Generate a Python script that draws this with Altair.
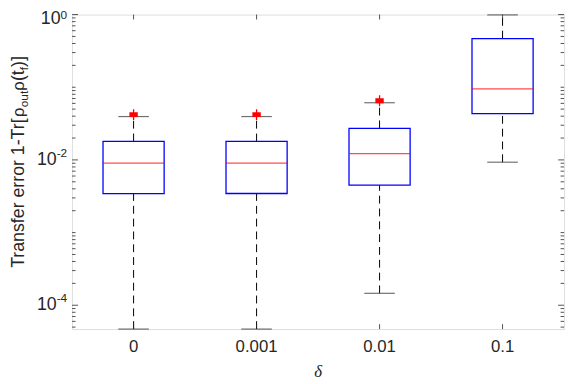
import altair as alt
import pandas as pd

# ---- data ----
cats = ["0", "0.001", "0.01", "0.1"]
q1 = [0.00343, 0.00345, 0.00450, 0.0434]
med = [0.00902, 0.00902, 0.01222, 0.0948]
q3 = [0.01794, 0.01794, 0.0272, 0.467]
wlo = [4.7e-5, 4.7e-5, 1.46e-4, 0.0093]
whi = [0.0395, 0.0395, 0.0612, 0.99]
out_cat = ["0", "0.001", "0.01"]
out_val = [0.042, 0.042, 0.0652]
ytick_vals = [1e-4, 1e-2, 1.0]
ytick_exp = ["-4", "-2", "0"]

W, H = 499, 319
FONT = "Liberation Sans"
TXT = "#262626"
FS = 17

box = pd.DataFrame({"cat": cats, "q1": q1, "med": med, "q3": q3, "lo": wlo, "hi": whi})
outl = pd.DataFrame({"cat": out_cat, "v": out_val})

yscale = alt.Scale(type="log", domain=[4.7e-5, 1.0], nice=False)
xscale = alt.Scale(domain=cats, paddingInner=0, paddingOuter=0)
X = alt.X("cat:N", scale=xscale, sort=cats, title=None,
          axis=alt.Axis(labelAngle=0, labelFont=FONT, labelFontSize=FS, labelColor=TXT,
                        ticks=False, domain=False, grid=False, labelPadding=10))

base = alt.Chart(box)
dash = [8, 5]
w_up = base.mark_rule(color="black", strokeWidth=1, strokeDash=dash).encode(
    x=X, y=alt.Y("q3:Q", scale=yscale, axis=None), y2="hi:Q")
w_dn = base.mark_rule(color="black", strokeWidth=1, strokeDash=dash).encode(
    x=X, y=alt.Y("lo:Q", scale=yscale, axis=None), y2="q1:Q")
cap_hi = base.mark_tick(color="#333333", size=31, thickness=1.2).encode(
    x=X, y=alt.Y("hi:Q", scale=yscale, axis=None))
cap_lo = base.mark_tick(color="#333333", size=31, thickness=1.2).encode(
    x=X, y=alt.Y("lo:Q", scale=yscale, axis=None))
boxes = base.mark_bar(size=62, fill="white", stroke="#0000ff", strokeWidth=1.3).encode(
    x=X, y=alt.Y("q1:Q", scale=yscale, axis=None), y2="q3:Q")
meds = base.mark_tick(color="#ff0000", size=62, thickness=1.2).encode(
    x=X, y=alt.Y("med:Q", scale=yscale, axis=None))
plus_shape = "M-0.85,-0.5H0.85V0.5H-0.85Z M-0.13,-1.1H0.13V1.1H-0.13Z"
outs = alt.Chart(outl).mark_point(shape=plus_shape, filled=True, color="#ff0000",
                                  size=100, opacity=1).encode(
    x=X, y=alt.Y("v:Q", scale=yscale, axis=None))

# y ticks (inward, both sides)
minor = []
for e in range(-5, 0):
    for k in range(1, 10):
        v = k * 10 ** e
        if 4.7e-5 <= v <= 1.0 and not any(abs(v - t) / t < 1e-9 for t in ytick_vals):
            minor.append(v)
mdf = pd.DataFrame({"v": minor})
Mdf = pd.DataFrame({"v": ytick_vals})
tick_layers = []
for df, L in [(mdf, 3.5), (Mdf, 6)]:
    tick_layers.append(alt.Chart(df).mark_rule(color=TXT, strokeWidth=0.8).encode(
        y=alt.Y("v:Q", scale=yscale, axis=None), x=alt.value(0), x2=alt.value(L)))
    tick_layers.append(alt.Chart(df).mark_rule(color=TXT, strokeWidth=0.8).encode(
        y=alt.Y("v:Q", scale=yscale, axis=None), x=alt.value(W), x2=alt.value(W - L)))
cdf = pd.DataFrame({"cat": cats})
tick_layers.append(alt.Chart(cdf).mark_rule(color=TXT, strokeWidth=0.8).encode(
    x=X, y=alt.value(H), y2=alt.value(H - 5)))
tick_layers.append(alt.Chart(cdf).mark_rule(color=TXT, strokeWidth=0.8).encode(
    x=X, y=alt.value(0), y2=alt.value(5)))

# y tick labels 10^e
AW = {"0": .556, "1": .556, "2": .556, "4": .556, "-": .333}
lab_layers = []
LS, ES = 18, 12
for v, ex in zip(ytick_vals, ytick_exp):
    ew = sum(AW[c] for c in ex) * ES
    R = -5
    top = (v == 1.0)
    d = pd.DataFrame({"v": [v]})
    lab_layers.append(alt.Chart(d).mark_text(text="10", font=FONT, fontSize=LS, color=TXT,
                                             align="right", baseline="middle",
                                             dy=5 if top else 0).encode(
        y=alt.Y("v:Q", scale=yscale, axis=None), x=alt.value(R - ew)))
    lab_layers.append(alt.Chart(d).mark_text(text=ex, font=FONT, fontSize=ES, color=TXT,
                                             align="left", baseline="middle",
                                             dy=0.5 if top else -7).encode(
        y=alt.Y("v:Q", scale=yscale, axis=None), x=alt.value(R - ew)))

# y title with subscripts
CW = {"T": .611, "r": .333, "a": .556, "n": .556, "s": .5, "f": .278, "e": .556, " ": .278,
      "o": .556, "1": .556, "-": .333, "[": .278, "]": .278, "(": .333, ")": .333, "t": .278,
      "u": .556, "ρ": .58}
pieces = [("Transfer error 1-Tr[", 18, 0), ("ρ", 17, 0), ("out", 12, 4), ("ρ", 17, 0),
          ("(t", 18, 0), ("f", 12, 4), (")]", 18, 0)]
total = sum(sum(CW[c] for c in t) * s for t, s, _ in pieces)
ypos = H / 2 - 10 + total / 2
bx = -49
title_layers = []
for t, s, off in pieces:
    title_layers.append(alt.Chart(pd.DataFrame({"a": [0]})).mark_text(
        text=t, font=FONT, fontSize=s, color=TXT, angle=270, align="left",
        baseline="alphabetic").encode(x=alt.value(bx + off), y=alt.value(ypos)))
    ypos -= sum(CW[c] for c in t) * s

xtitle = alt.Chart(pd.DataFrame({"a": [0]})).mark_text(
    text="δ", font="Liberation Serif", fontStyle="italic", fontSize=17, color=TXT,
    baseline="middle", align="center").encode(x=alt.value(W / 2), y=alt.value(H + 44))

chart = alt.layer(w_up, w_dn, boxes, meds, cap_hi, cap_lo, outs, *tick_layers, *lab_layers,
                  *title_layers, xtitle).properties(
    width=W, height=H,
    autosize=alt.AutoSizeParams(type="none"),
    padding={"left": 65, "top": 4, "right": 4, "bottom": 50},
).configure_view(stroke=TXT, strokeWidth=1).configure(background="white")

chart.save("out.html", embed_options={"renderer": "svg", "actions": False})
